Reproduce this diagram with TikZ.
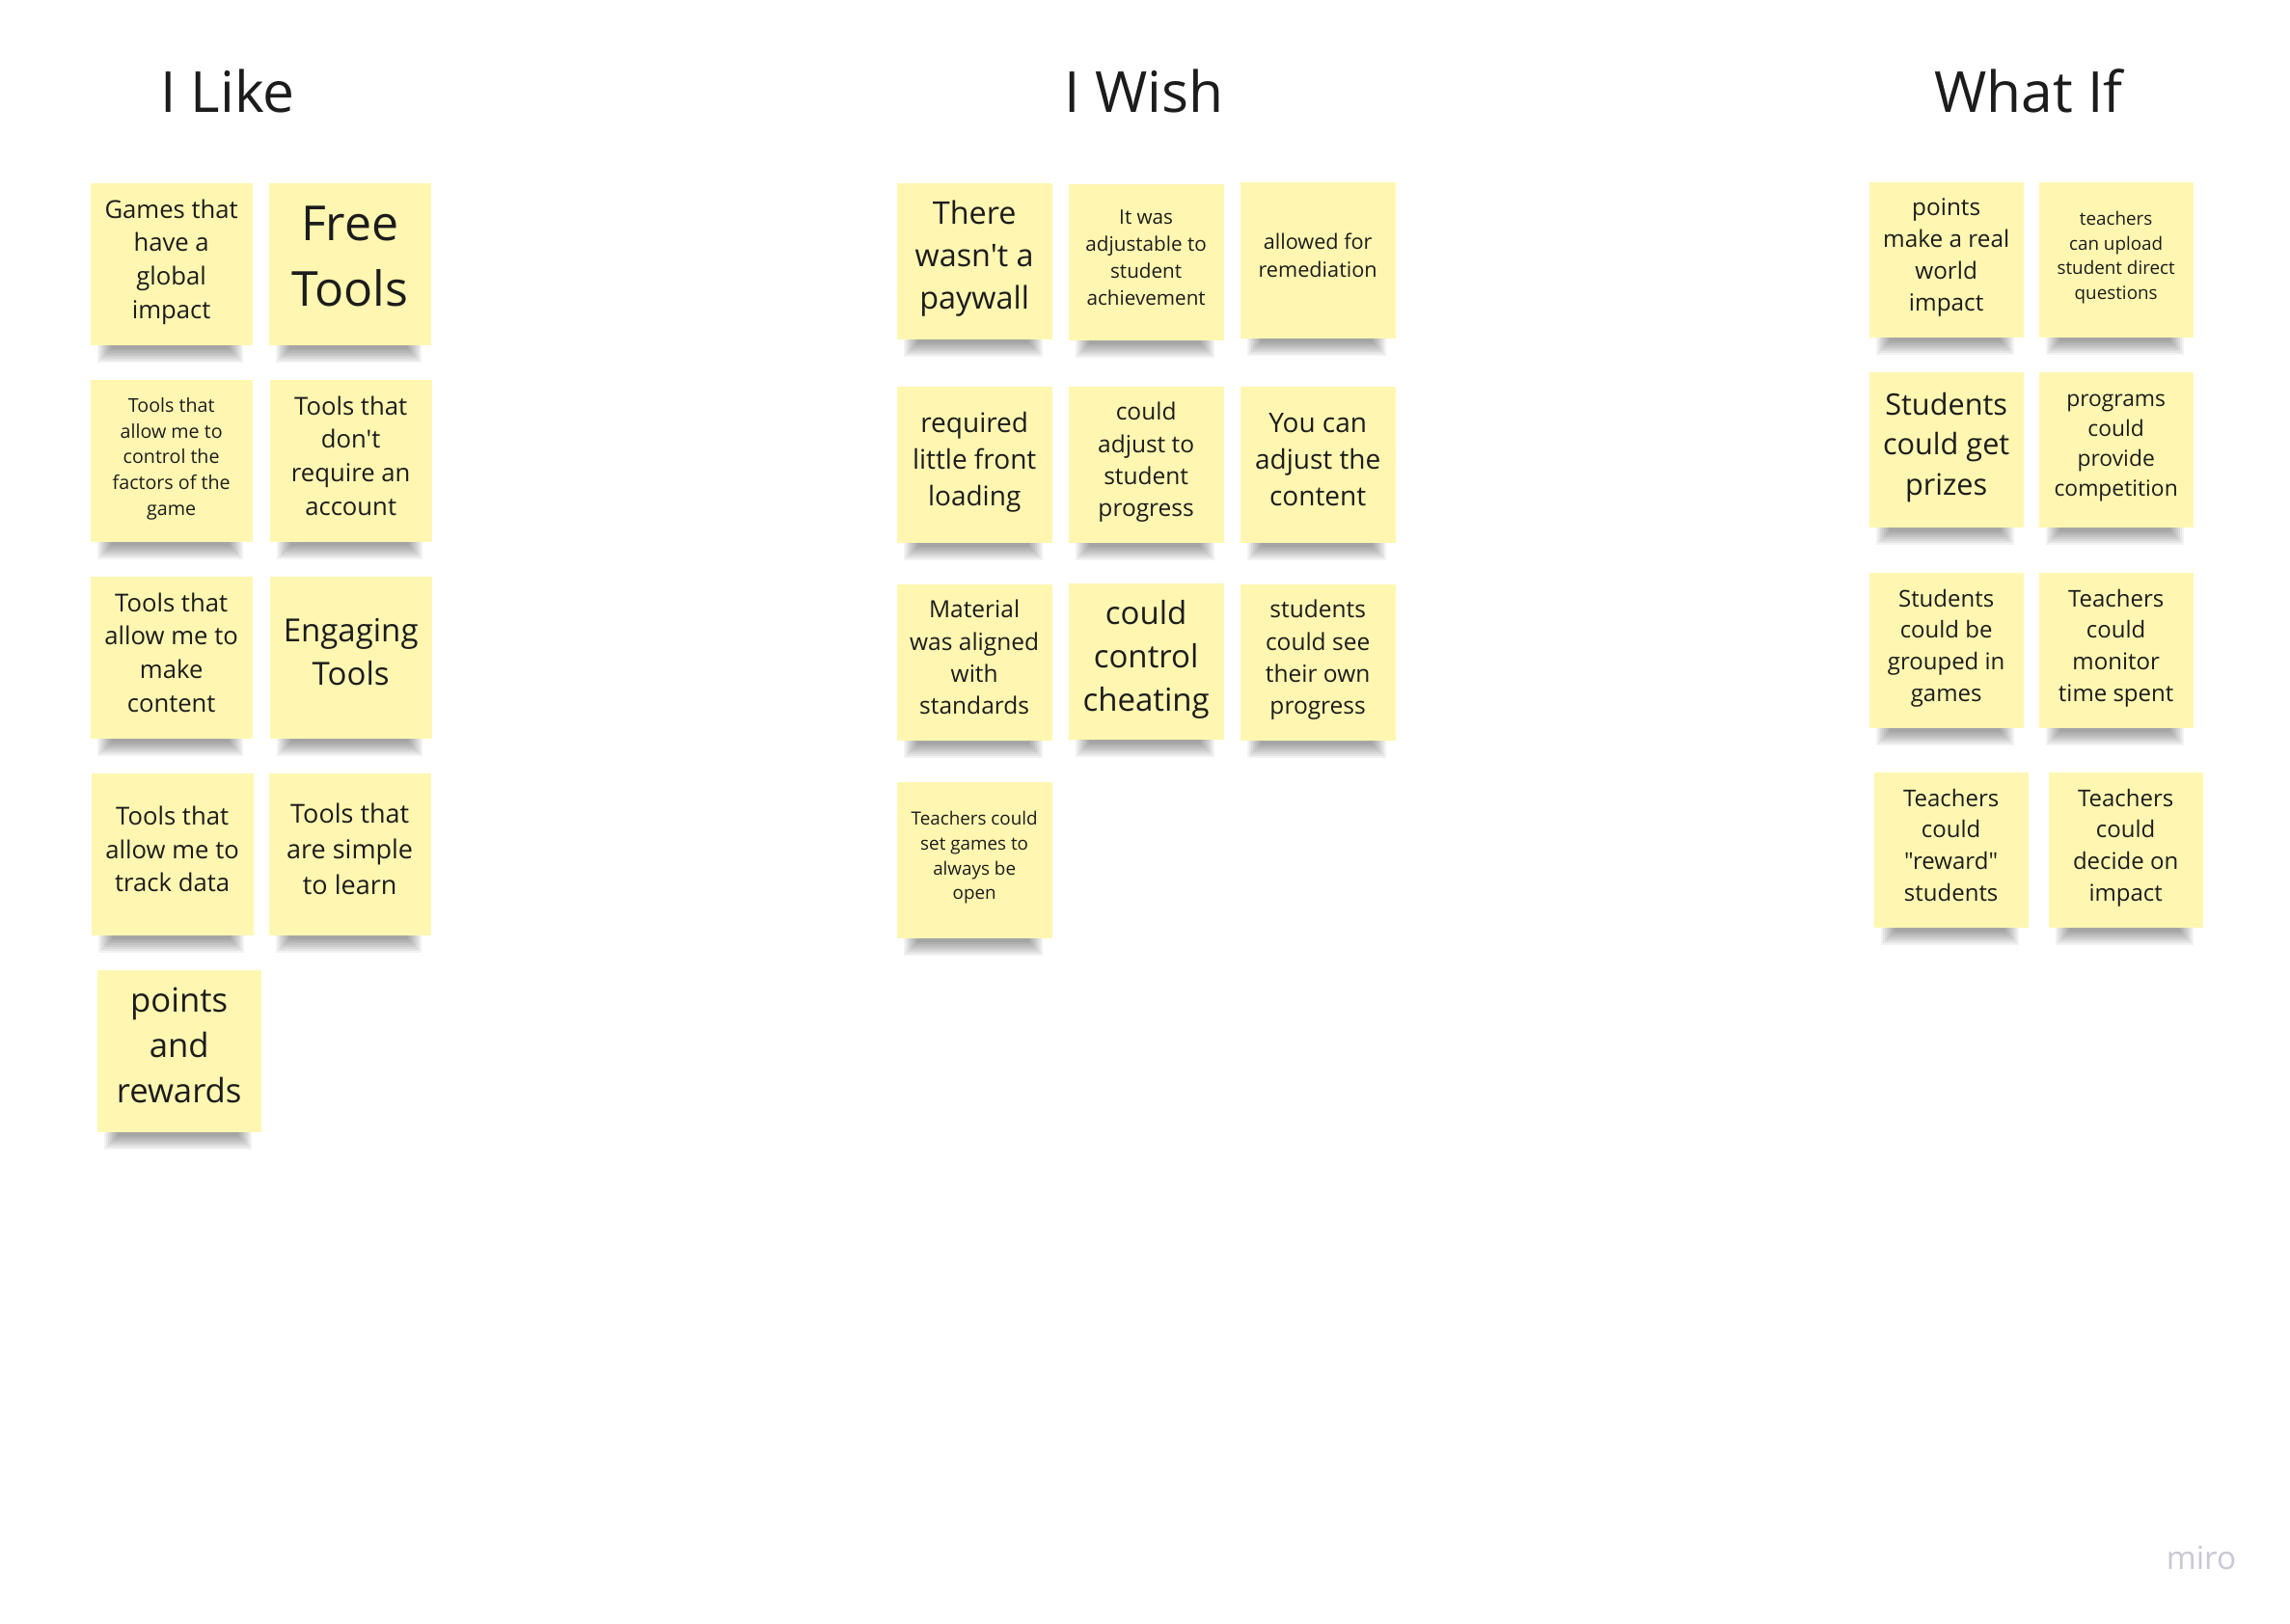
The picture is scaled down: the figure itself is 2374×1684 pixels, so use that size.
\documentclass[tikz,border=0pt]{standalone}
\usepackage{fontspec}
\setmainfont{Open Sans}[Ligatures=TeXOff]
\usetikzlibrary{positioning}
\definecolor{noteyellow}{HTML}{FFF7B1}
\definecolor{ink}{HTML}{1C1C1C}
\definecolor{logogray}{HTML}{C8C9D3}

\begin{document}
\begin{tikzpicture}[
  x=0.3pt, y=-0.3pt,
  every node/.style={text=ink},
  fs/.style 2 args={font=\fontsize{#1}{#2}\selectfont, text depth={0.25*#1pt+1.2pt}},
  heading/.style={font=\fontsize{17.6}{22}\selectfont, anchor=base},
  note/.style={fill=noteyellow, align=center, anchor=north west, inner sep=0pt},
  likenote/.style={note, minimum width=50.4pt, minimum height=50.4pt},
  wishnote/.style={note, minimum width=48.3pt, minimum height=48.6pt},
  ifnote/.style={note, minimum width=48pt, minimum height=48.3pt}
]
\fill[white] (0,0) rectangle (2374,1684);
\useasboundingbox (0,0) rectangle (2374,1684);

% column headings
\node[heading] (like) at (236,116) {I Like};
\node[heading] (wish) at (1186,116) {I Wish};
\node[heading] (whatif) at (2103,116) {What If};

% I Like
\node[likenote, fs={7.7}{10.4}] (games) at (93,189) {Games that\\have a\\global\\impact};
\node[likenote, fs={15}{20.3}] (free) at (278,189) {Free\\Tools};
\node[likenote, fs={5.9}{8}] (control) at (93,393) {Tools that\\allow me to\\control the\\factors of the\\game};
\node[likenote, fs={7.7}{10.4}] (account) at (279,393) {Tools that\\don't\\require an\\account};
\node[likenote, fs={7.7}{10.4}] (make) at (93,597) {Tools that\\allow me to\\make\\content};
\node[likenote, fs={9.9}{13.5}] (engaging) at (279,597) {Engaging\\Tools};
\node[likenote, fs={7.7}{10.3}] (track) at (94,801) {Tools that\\allow me to\\track data};
\node[likenote, fs={8.1}{11}] (simple) at (278,801) {Tools that\\are simple\\to learn};
\node[likenote, minimum width=51pt, fs={10.4}{14.1}] (points) at (100,1005) {points\\and\\rewards};

% I Wish
\node[wishnote, fs={9.7}{13.2}] (paywall) at (929,189) {There\\wasn't a\\paywall};
\node[wishnote, fs={6.2}{8.4}] (achieve) at (1107,190) {It was\\adjustable to\\student\\achievement};
\node[wishnote, fs={6.5}{8.8}] (remed) at (1285,188) {allowed for\\remediation};
\node[wishnote, fs={8.4}{11.4}] (frontload) at (929,400) {required\\little front\\loading};
\node[wishnote, fs={7.35}{10}] (progress) at (1107,400) {could\\adjust to\\student\\progress};
\node[wishnote, fs={8.4}{11.4}] (content) at (1285,400) {You can\\adjust the\\content};
\node[wishnote, fs={7.35}{10}] (aligned) at (929,605) {Material\\was aligned\\with\\standards};
\node[wishnote, fs={9.9}{13.5}] (cheat) at (1107,604) {could\\control\\cheating};
\node[wishnote, fs={7.35}{10}] (ownprog) at (1285,605) {students\\could see\\their own\\progress};
\node[wishnote, fs={5.65}{7.7}] (open) at (929,810) {Teachers could\\set games to\\always be\\open};

% What If
\node[ifnote, fs={7.3}{9.9}] (realworld) at (1937,188) {points\\make a real\\world\\impact};
\node[ifnote, fs={5.65}{7.7}] (upload) at (2113,188) {teachers\\can upload\\student direct\\questions};
\node[ifnote, fs={9.2}{12.5}] (prizes) at (1937,385) {Students\\could get\\prizes};
\node[ifnote, fs={6.85}{9.3}] (compete) at (2113,385) {programs\\could\\provide\\competition};
\node[ifnote, fs={7.2}{9.8}] (grouped) at (1937,593) {Students\\could be\\grouped in\\games};
\node[ifnote, fs={7.2}{9.8}] (monitor) at (2113,593) {Teachers\\could\\monitor\\time spent};
\node[ifnote, fs={7.2}{9.8}] (reward) at (1942,800) {Teachers\\could\\"reward"\\students};
\node[ifnote, fs={7.2}{9.8}] (decide) at (2123,800) {Teachers\\could\\decide on\\impact};

% soft shadows under the notes
\foreach \n in {games,free,control,account,make,engaging,track,simple,points,
                paywall,achieve,remed,frontload,progress,content,aligned,cheat,ownprog,open,
                realworld,upload,prizes,compete,grouped,monitor,reward,decide}
  \foreach \i in {0,...,7}
    \fill[black, opacity=.05]
      ([xshift={(8+2*\i)*0.3pt}]\n.south west) rectangle
      ([xshift={-(10+2*\i)*0.3pt}, yshift={-(18-2.1*\i)*0.3pt}]\n.south east);

\node[font=\fontsize{10}{12}\selectfont, text=logogray, anchor=base] (logo) at (2282,1627) {miro};
\end{tikzpicture}
\end{document}
